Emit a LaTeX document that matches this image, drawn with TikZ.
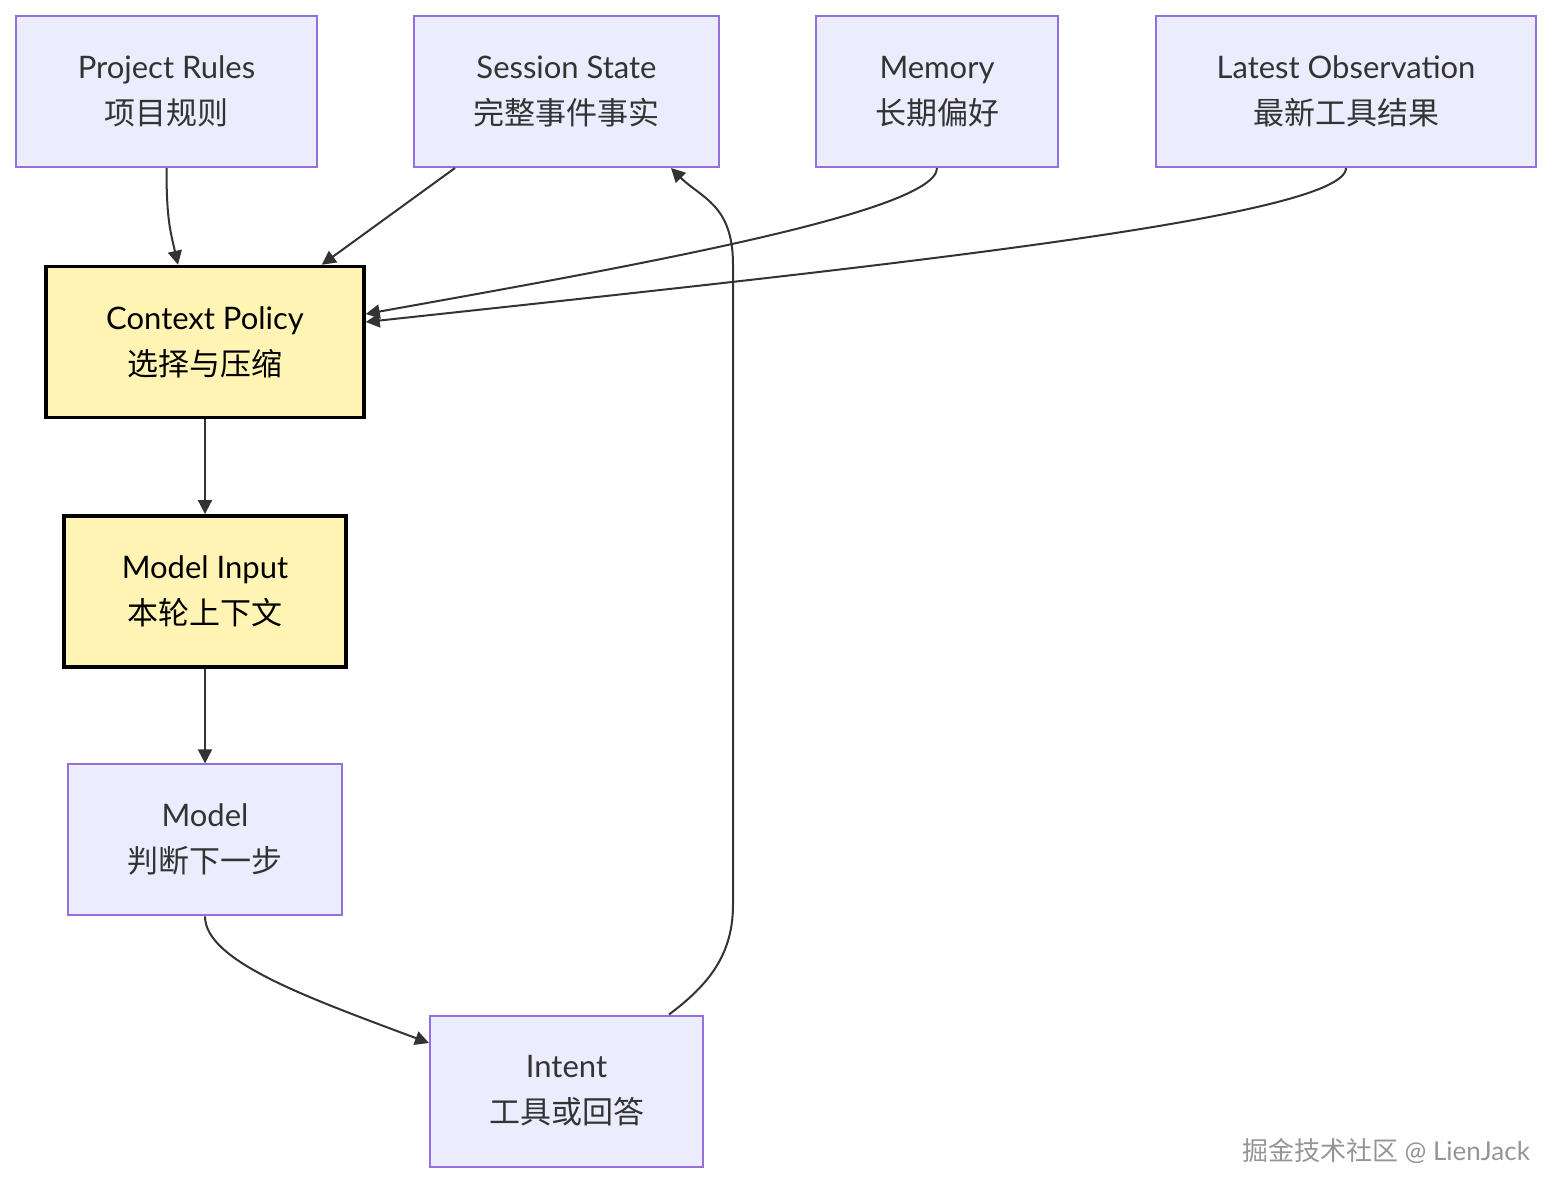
\documentclass[tikz,border=0pt]{standalone}
\usepackage{fontspec}
\setmainfont{Lato}
\newfontfamily\cjk{Noto Sans CJK SC}
\usetikzlibrary{arrows.meta, positioning}
\definecolor{NodeFill}{HTML}{ECECFF}
\definecolor{NodeLine}{HTML}{9370DB}
\definecolor{HotFill}{HTML}{FFF4B3}
\definecolor{EdgeGray}{HTML}{333333}
\definecolor{CreditGray}{HTML}{959595}

\begin{document}
\begin{tikzpicture}[
    x=0.5pt, y=-0.5pt,
    font=\fontsize{15.5}{23}\selectfont,
    node distance=47.4pt,
    link/.style={draw=EdgeGray, line width=1pt, -{Triangle[length=7pt,width=7pt]}},
    box/.style={
        rectangle, draw=NodeLine, fill=NodeFill, line width=1pt,
        minimum height=75.5pt, inner sep=0pt,
        align=center, text=EdgeGray
    },
    hot/.style={fill=HotFill, draw=black, line width=1.75pt, text=black},
    credit/.style={font=\fontsize{13}{15}\selectfont, text=CreditGray}
]
    \useasboundingbox (0,0) rectangle (1568,1196);

    % Sources (top row)
    \node[box, minimum width=150.5pt] (rules) at (166.5,91.5) {Project Rules\\{\cjk 项目规则}};
    \node[box, minimum width=152.5pt] (session) at (566.5,91.5) {Session State\\{\cjk 完整事件事实}};
    \node[box, minimum width=121pt] (memory) at (937,91.5) {Memory\\{\cjk 长期偏好}};
    \node[box, minimum width=190pt] (latest) at (1346,91.5) {Latest Observation\\{\cjk 最新工具结果}};

    % Main chain
    \node[box, hot, minimum width=159pt] (policy) at (205,342) {Context Policy\\{\cjk 选择与压缩}};
    \node[box, hot, minimum width=141pt] (input) [below=of policy] {Model Input\\{\cjk 本轮上下文}};
    \node[box, minimum width=137pt] (model) [below=of input] {Model\\{\cjk 判断下一步}};
    \node[box, minimum width=136.5pt] (intent) at (566.5,1091) {Intent\\{\cjk 工具或回答}};

    % Arrows
    \draw[link] (rules.south) .. controls +(0,50) and +(-8,-35) .. ([xshift=-13.5pt]policy.north);
    \draw[link] ([xshift=21pt]session.south west) -- ([xshift=-22pt]policy.north east);
    \draw[link] (memory.south) .. controls +(0,45) and +(250,-45) .. ([yshift=14pt]policy.east);
    \draw[link] (latest.south) .. controls +(0,50) and +(500,-54) .. ([yshift=10pt]policy.east);
    \draw[link] (policy) -- (input);
    \draw[link] (input) -- (model);
    \draw[link] (model.south) .. controls +(0,45) and +(-120,-45) .. ([yshift=24pt]intent.west);
    \draw[link] ([xshift=-17.5pt]intent.north east) .. controls +(40,-30) and +(0,50) .. ++(64,-110)
        -- ++(0,-640) .. controls +(0,-60) and +(30,30) .. ([xshift=-24.5pt]session.south east);

    \node[credit, anchor=base east] (mark) at (1537,1160) {{\cjk 掘金技术社区} @ LienJack};
\end{tikzpicture}
\end{document}
